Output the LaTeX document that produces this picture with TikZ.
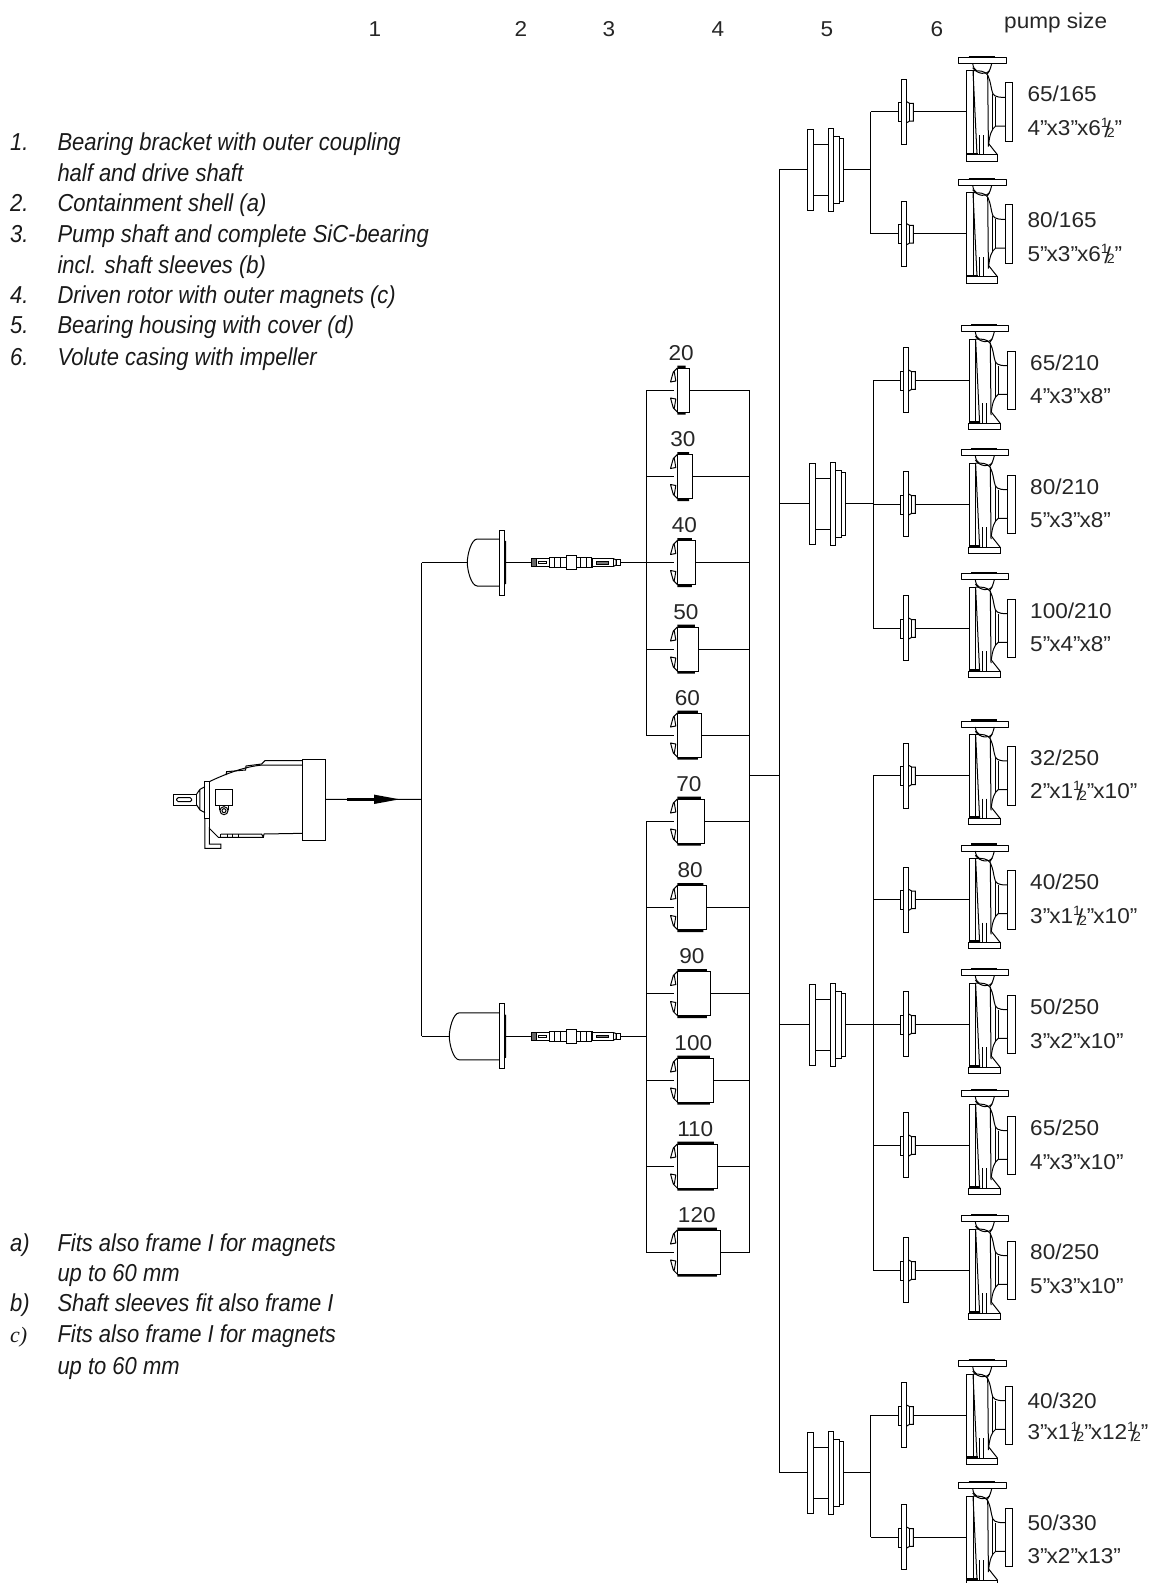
\documentclass[tikz,border=0pt]{standalone}
\usepackage{fontspec}
\setmainfont{Liberation Sans}
\newfontfamily\plainf[FakeStretch=1.05]{Liberation Sans}
\newfontfamily\itf[FakeStretch=0.897]{Liberation Sans Italic}
\newfontfamily\serf{Liberation Serif Italic}
\newcommand{\hf}{\smash{\fontsize{13.5}{14}\selectfont\raisebox{8pt}{1}\kern-2pt\raisebox{-2pt}{2}\llap{\fontsize{23}{23}\selectfont\raisebox{-2pt}{/}\kern3.6pt}}}
\newcommand{\q}{”\kern-1pt}
\tikzset{
 ln/.style={line width=1pt,black},
 tx/.style={inner sep=0pt,anchor=base west,font=\plainf\fontsize{21.5}{22}\selectfont,text=black!85},
 num/.style={inner sep=0pt,anchor=base,font=\plainf\fontsize{21.5}{22}\selectfont,text=black!85},
 it/.style={inner sep=0pt,anchor=base west,font=\itf\fontsize{24.5}{25}\selectfont,text=black!90},
 pics/pump/.style={code={
  \coordinate (-in) at (0,0);
  \draw[ln,line join=round] (-8.3,-54.3) rectangle (39.3,-48.3);
  \draw[ln,line width=1.8pt] (2,-55.2) -- (28,-55.2);
  \draw[ln] (6,-48.3) .. controls (6.5,-44) and (8,-42) .. (10,-41);
  \draw[ln] (25,-48.3) .. controls (24,-44) and (23,-41) .. (20.5,-37.5);
  \draw[ln] (6,-44) .. controls (11,-37) and (20,-37) .. (23,-41);
  \draw[ln] (0,-41) rectangle (6.3,43);
  \draw[ln] (6.3,-41) .. controls (13,-41) and (18,-41) .. (21,-36.5) -- (21.7,35);
  \draw[ln] (6.3,-41) -- (10.3,43);
  \draw[ln] (21,-36.5) .. controls (24,-30) and (24,-26) .. (25,-22) .. controls (26,-16) and (28,-14.3) .. (38.3,-14.3);
  \draw[ln] (38.3,14.3) -- (29,14.3) .. controls (25,17) and (23,23) .. (22,32) -- (30.7,43);
  \draw[ln] (29,-14.3) -- (29,14.3);
  \draw[ln] (25.7,-18) -- (25.7,18);
  \draw[ln] (38.3,-29) rectangle (46,29.7);
  \draw[ln] (-0.7,43) rectangle (30.7,49.5);
  \draw[ln] (12.7,23.3) -- (12.7,43) (16.7,23.3) -- (16.7,43);
  \draw[ln,line width=1.8pt] (0,42) -- (11,42);
 }},
 pics/impeller/.style={code={
  \coordinate (-in) at (-5.7,0);
  \coordinate (-out) at (9.3,0);
  \draw[ln] (-2.7,-32.3) rectangle (2.7,32.7);
  \draw[ln] (-5.7,-9) rectangle (-2.7,10);
  \draw[ln] (2.7,-10) -- (5.7,-8.3) -- (9.3,-8.3) -- (9.3,9.3) -- (5.7,9.3) -- (2.7,11);
  \draw[ln] (5.7,-8.3) -- (5.7,9.3);
 }},
 pics/housing/.style={code={
  \coordinate (-in) at (0,0);
  \coordinate (-out) at (36,0);
  \draw[ln] (0,-40) rectangle (6,41);
  \draw[ln] (21,-41) rectangle (26,42);
  \draw[ln] (26,-33) rectangle (32,34);
  \draw[ln] (32,-31) rectangle (36,32);
  \draw[ln] (6,-25) -- (21,-25) (6,26) -- (21,26);
 }},
 pics/shell/.style={code={
  \coordinate (-in) at (-#1,0);
  \coordinate (-out) at (6.3,0);
  \draw[ln] (0,-23.5) -- (-#1+10,-23.5) .. controls (-#1+4,-23.5) and (-#1,-8) .. (-#1,0)
     .. controls (-#1,8) and (-#1+4,23.5) .. (-#1+10,23.5) -- (0,23.5);
  \draw[ln] (0,-32.5) rectangle (5,32.5);
  \draw[ln] (5,-21.5) -- (6.3,-21) -- (6.3,21) -- (5,21.5);
 }},
 pics/pshaft/.style={code={
  \coordinate (-in) at (0,0);
  \coordinate (-out) at (88.3,0);
  \draw[ln,fill=black!60] (0,-4.3) rectangle (5,4.3);
  \draw[ln] (5,-3.7) rectangle (17.3,3.7);
  \draw[line width=.7pt] (6.7,-1.3) rectangle (15,1.3);
  \draw[ln] (17.3,-5) rectangle (35,5);
  \draw[ln] (23,-5) -- (23,5) (29,-5) -- (29,5);
  \draw[ln] (35,-6.7) rectangle (44.3,6.7);
  \draw[ln] (44.3,-5) rectangle (60,5);
  \draw[ln] (49,-5) -- (49,5) (55,-5) -- (55,5);
  \draw[ln,line width=1.8pt] (60.5,-5) -- (60.5,5);
  \draw[ln] (61,-3.7) rectangle (82,3.7);
  \draw[fill=black!55,line width=.6pt] (65,-1.4) rectangle (77,1.4);
  \draw[ln] (82,-3.7) -- (84.3,-2.7) -- (84.3,2.7) -- (82,3.7);
  \draw[ln] (84.3,-3.2) rectangle (88.3,3.2);
 }},
 pics/rotor/.style={code={
  \coordinate (-in) at (-3,0);
  \coordinate (-out) at (#1,0);
  \draw[ln] (0,-22) rectangle (#1,22);
  \fill[black] (0,-24.5) rectangle (#1-3.5,-22) (0,22) rectangle (#1-3.5,24.5);
  \draw[ln,line join=round] (0,-22) -- (-4,-18) -- (-6.8,-8) -- (-1.5,-9) -- (-3,-18);
  \draw[ln,line join=round] (0,22) -- (-4,18) -- (-6.8,8) -- (-1.5,9) -- (-3,18);
  \node[num] (-lbl) at ({#1/2-2},-30) {\pgfkeysvalueof{/tikz/rotorlabel}};
 }},
 rotorlabel/.initial={},
}
\begin{document}
\begin{tikzpicture}[x=1pt,y=-1pt]
\useasboundingbox (0,0) rectangle (1161,1583);
% column heads
\foreach \t/\x in {1/375,2/521,3/609,4/718,5/827,6/937}{
  \node[num] (col\t) at (\x,36) {\t};}
\node[tx] (psize) at (1004,28) {pump size};
% legend
\node[it] (t1n) at (10,150) {1.}; \node[it] (t1a) at (57.3,150) {Bearing bracket with outer coupling};
\node[it] (t1b) at (57.3,181) {half and drive shaft};
\node[it] (t2n) at (10,211.7) {2.}; \node[it] (t2a) at (57.3,211.7) {Containment shell (a)};
\node[it] (t3n) at (10,242.7) {3.}; \node[it] (t3a) at (57.3,242.7) {Pump shaft and complete SiC-bearing};
\node[it] (t3b) at (57.3,273) {incl. shaft sleeves (b)};
\node[it] (t4n) at (10,303) {4.}; \node[it] (t4a) at (57.3,303) {Driven rotor with outer magnets (c)};
\node[it] (t5n) at (10,333) {5.}; \node[it] (t5a) at (57.3,333) {Bearing housing with cover (d)};
\node[it] (t6n) at (10,365) {6.}; \node[it] (t6a) at (57.3,365) {Volute casing with impeller};
% notes
\node[it] (naN) at (10,1251) {a)}; \node[it] (na1) at (57.3,1251) {Fits also frame I for magnets};
\node[it] (na2) at (57.3,1281.7) {up to 60 mm};
\node[it] (nbN) at (10,1311.7) {b)}; \node[it] (nb1) at (57.3,1311.7) {Shaft sleeves fit also frame I};
\node[it,font=\serf\fontsize{22}{22}\selectfont] (ncN) at (10,1342.7) {c)}; \node[it] (nc1) at (57.3,1342.7) {Fits also frame I for magnets};
\node[it] (nc2) at (57.3,1374) {up to 60 mm};
% bearing bracket
\begin{scope}[shift={(150,730)},x=0.3333pt,y=-0.3333pt]
 \coordinate (m-out) at (528,208);
 \draw[ln] (458,88) rectangle (528,330);
 \draw[ln] (178,155) .. controls (230,130) and (290,108) .. (340,105) -- (458,105);
 \draw[ln] (228,135) -- (230,125) -- (287,120) -- (288,108) -- (335,102) -- (345,92) -- (458,92);
 \draw[ln] (165,155) rectangle (178,265);
 \draw[ln] (165,265) -- (165,355) -- (213,355) -- (213,342) -- (178,342) -- (178,295) -- (205,322) -- (340,322) -- (342,312) -- (458,310);
 \draw[ln] (178,265) -- (178,295);
 \draw[ln] (213,312) -- (335,312) -- (340,322);
 \draw[ln] (213,312) -- (213,322) (232,312) -- (232,322) (248,312) -- (248,322) (265,312) -- (265,322);
 \draw[ln] (70,192) rectangle (140,225);
 \draw[ln,rounded corners=1.5pt] (80,203) rectangle (125,215);
 \draw[ln] (140,192) -- (150,178) -- (165,170) (140,225) -- (150,240) -- (165,248) (150,178) -- (150,240);
 \draw[ln] (198,177) rectangle (247,225);
 \draw[ln] (222,242) circle [radius=4pt];
 \draw[ln] (222,242) circle [radius=2pt];
 \draw[ln] (210,225) -- (210,240) (235,225) -- (235,240);
\end{scope}
% bus lines
\coordinate (fork) at (421.7,799.3);
\pic (s1) at (499.3,562.5) {shell=32};
\pic (s2) at (499.3,1036.3) {shell=50};
\pic (sh1) at (531.7,562.5) {pshaft};
\pic (sh2) at (531.7,1036.3) {pshaft};
\coordinate (busL) at (646.3,0);
\coordinate (busR) at (749.7,0);
\draw[ln] (m-out) -- (fork);
\fill[black] (347.3,797.7) rectangle (374,800.9);
\fill[black] (374,794.6) -- (399.5,799.3) -- (374,804) -- cycle;
\draw[ln] (fork |- s1-in) -- (fork |- s2-in);
\draw[ln] (fork |- s1-in) -- (s1-in);
\draw[ln] (fork |- s2-in) -- (s2-in);
\draw[ln] (s1-out) -- (sh1-in);
\draw[ln] (s2-out) -- (sh2-in);
% rotors
\foreach \n/\y/\w in {20/390/11.7,30/476.5/15.2,40/562.5/18,50/649/21,60/735/24,70/821/27,80/907.5/29.5,90/993.5/33,100/1080/36,110/1166/40,120/1252/43}{
  \tikzset{rotorlabel=\n}
  \pic (r\n) at (677.3,\y) {rotor=\w};
  \draw[ln] (busL |- r\n-in) -- (r\n-in);
  \draw[ln] (r\n-out) -- (busR |- r\n-out);
}
\draw[ln] (busL |- r20-in) -- (busL |- r60-in);
\draw[ln] (busL |- r70-in) -- (busL |- r120-in);
\draw[ln] (busR |- r20-out) -- (busR |- r120-out);
\draw[ln] (sh1-out) -- (busL |- sh1-out);
\draw[ln] (sh2-out) -- (busL |- sh2-out);
% housings
\coordinate (main) at (779,775);
\pic (h1) at (807,169.3) {housing};
\pic (h2) at (809,503) {housing};
\pic (h3) at (809,1024) {housing};
\pic (h4) at (807,1472.7) {housing};
\draw[ln] (busR |- main) -- (main);
\draw[ln] (main |- h1-in) -- (main |- h4-in);
\foreach \h in {1,2,3,4}{\draw[ln] (main |- h\h-in) -- (h\h-in);}
% pumps
\coordinate (b1) at (870.7,0);
\coordinate (b2) at (873.3,0);
\foreach \k/\ix/\px/\y/\bb/\ya/\yb/\la/\lb in {
 1/904/966.7/111.7/b1/101.7/135/{65/165}/{4\q x3\q x6\hf\q},
 2/904/966.7/233.7/b1/227.7/261/{80/165}/{5\q x3\q x6\hf\q},
 3/906/969.3/380/b2/370/403.5/{65/210}/{4\q x3\q x8\q},
 4/906/969.3/504/b2/494/527.5/{80/210}/{5\q x3\q x8\q},
 5/906/969.3/628/b2/618/651.5/{100/210}/{5\q x4\q x8\q},
 6/906/969.3/775.3/b2/765.7/798.3/{32/250}/{2\q x1\hf\q x10\q},
 7/906/969.3/899.3/b2/889.3/923.3/{40/250}/{3\q x1\hf\q x10\q},
 8/906/969.3/1024/b2/1014/1048.3/{50/250}/{3\q x2\q x10\q},
 9/906/969.3/1145/b2/1135/1169.3/{65/250}/{4\q x3\q x10\q},
 10/906/969.3/1270/b2/1259.3/1293.3/{80/250}/{5\q x3\q x10\q},
 11/904/966.7/1415/b1/1408/1439.5/{40/320}/{3\q x1\hf\q x12\hf\q},
 12/904/966.7/1537/b1/1530/1563/{50/330}/{3\q x2\q x13\q}}{
  \pic (i\k) at (\ix,\y) {impeller};
  \pic (p\k) at (\px,\y) {pump};
  \draw[ln] (i\k-out) -- (p\k-in);
  \draw[ln] (\bb |- i\k-in) -- (i\k-in);
  \node[tx] (la\k) at (\px+60.7,\ya) {\la};
  \node[tx] (lb\k) at (\px+60.7,\yb) {\lb};
}
\draw[ln] (h1-out) -- (b1 |- h1-out);
\draw[ln] (b1 |- i1-in) -- (b1 |- i2-in);
\draw[ln] (h2-out) -- (b2 |- h2-out);
\draw[ln] (b2 |- i3-in) -- (b2 |- i5-in);
\draw[ln] (h3-out) -- (b2 |- h3-out);
\draw[ln] (b2 |- i6-in) -- (b2 |- i10-in);
\draw[ln] (h4-out) -- (b1 |- h4-out);
\draw[ln] (b1 |- i11-in) -- (b1 |- i12-in);
\end{tikzpicture}
\end{document}
